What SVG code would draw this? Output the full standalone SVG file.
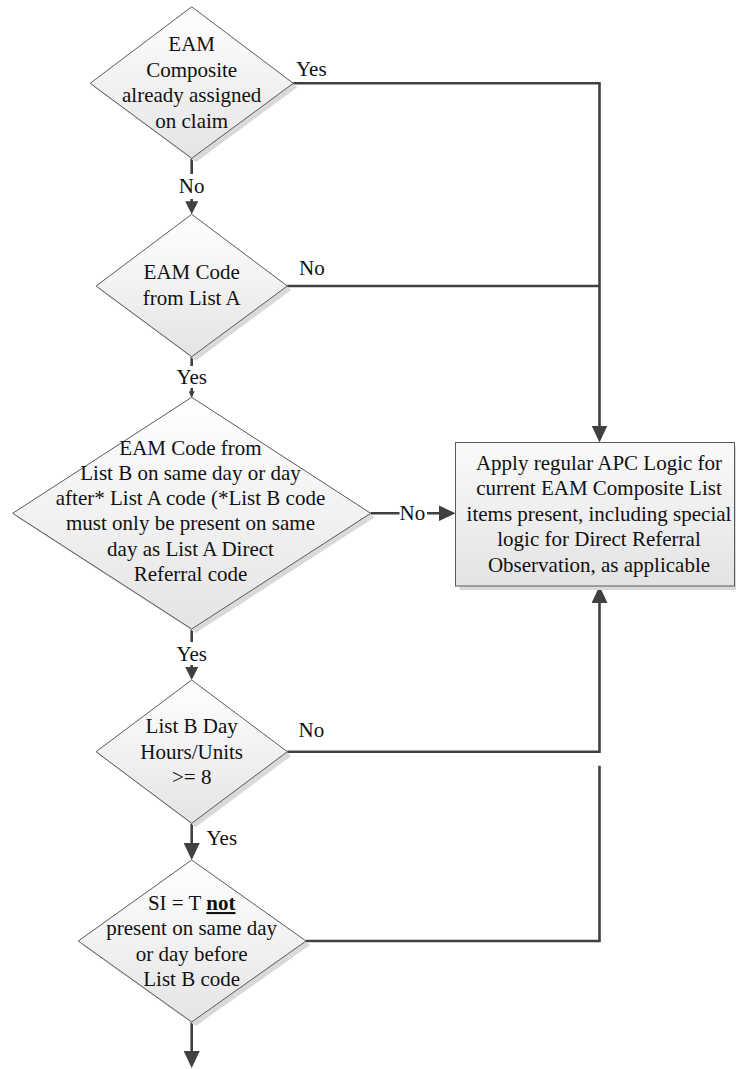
<svg xmlns="http://www.w3.org/2000/svg" width="736" height="1069" viewBox="0 0 736 1069">
  <style>
    .shape { stroke: #595959; stroke-width: 1; }
    .dia { fill: url(#gDia); }
    .box { fill: url(#gBox); }
    .shadow { fill: #d9d9d9; stroke: none; }
    text { font-family: 'Liberation Serif', Tinos, 'Times New Roman', Times, 'Nimbus Roman', 'DejaVu Serif', serif; font-size: 21px; fill: #111; }
    .t { text-anchor: middle; }
    .lc { text-anchor: middle; }
    .conn { fill: none; stroke: #404040; stroke-width: 2.6; }
    .bg { fill: #ffffff; stroke: none; }
  </style>
  <defs>
    <linearGradient id="gDia" x1="0" y1="0" x2="0" y2="1">
      <stop offset="0" stop-color="#ffffff"/>
      <stop offset="1" stop-color="#e4e4e4"/>
    </linearGradient>
    <linearGradient id="gBox" x1="0" y1="0" x2="0" y2="1">
      <stop offset="0" stop-color="#fafafa"/>
      <stop offset="1" stop-color="#e3e3e3"/>
    </linearGradient>
    <marker id="aBig" markerUnits="userSpaceOnUse" markerWidth="17" markerHeight="16" viewBox="0 0 17 16" refX="9" refY="8" orient="auto">
      <path d="M0,0 L17,8 L0,16 z" fill="#404040"/>
    </marker>
    <marker id="aMid" markerUnits="userSpaceOnUse" markerWidth="13" markerHeight="13" viewBox="0 0 13 13" refX="7" refY="6.5" orient="auto">
      <path d="M0,0 L13,6.5 L0,13 z" fill="#404040"/>
    </marker>
    <marker id="aTiny" markerUnits="userSpaceOnUse" markerWidth="7" markerHeight="6" viewBox="0 0 7 6" refX="3" refY="3" orient="auto">
      <path d="M0,0 L7,3 L0,6 z" fill="#404040"/>
    </marker>
  </defs>

  <g id="connectors">
    <path class="conn" d="M293.3,83.3 H599.5 V434.5" marker-end="url(#aBig)"/>
    <path class="conn" d="M191.7,158.3 V208.3" marker-end="url(#aMid)"/>
    <path class="conn" d="M287.3,286 H599.5"/>
    <path class="conn" d="M191.7,356.7 V394.3" marker-end="url(#aTiny)"/>
    <path class="conn" d="M370.7,513.3 H447.5" marker-end="url(#aBig)"/>
    <path class="conn" d="M191.7,629 V674" marker-end="url(#aMid)"/>
    <path class="conn" d="M287.3,751.7 H599.5 V594" marker-end="url(#aBig)"/>
    <path class="conn" d="M191.7,823.3 V852" marker-end="url(#aBig)"/>
    <path class="conn" d="M306,941 H599.5 V765.7"/>
    <path class="conn" d="M191.7,1022 V1060" marker-end="url(#aBig)"/>

    <g id="labels">
      <text x="296" y="76">Yes</text>
      <rect class="bg" x="178" y="174" width="28" height="25"/>
      <text class="lc" x="191.7" y="193.3">No</text>
      <text x="299" y="275">No</text>
      <rect class="bg" x="173" y="366" width="38" height="22"/>
      <text class="lc" x="191.7" y="384">Yes</text>
      <rect class="bg" x="399.5" y="500" width="27.5" height="26"/>
      <text x="399.5" y="520">No</text>
      <rect class="bg" x="173" y="642" width="38" height="23"/>
      <text class="lc" x="191.7" y="660.7">Yes</text>
      <text x="298.5" y="736.5">No</text>
      <text x="206.5" y="845">Yes</text>
    </g>
  </g>

  <g id="node-composite-assigned">
    <polygon class="shadow" points="195.7,10.8 297.3,87.3 195.7,162.3 94.2,87.3"/>
    <polygon class="shape dia" points="191.7,6.8 293.3,83.3 191.7,158.3 90.2,83.3"/>
    <text class="t" x="191.7" y="51">EAM</text>
    <text class="t" x="191.7" y="76.5">Composite</text>
    <text class="t" x="191.7" y="102">already assigned</text>
    <text class="t" x="191.7" y="127.5">on claim</text>
  </g>

  <g id="node-list-a">
    <polygon class="shadow" points="195.7,218.3 291.3,290 195.7,360.7 100.1,290"/>
    <polygon class="shape dia" points="191.7,214.3 287.3,286 191.7,356.7 96.1,286"/>
    <text class="t" x="191.7" y="279">EAM Code</text>
    <text class="t" x="191.7" y="304.5">from List A</text>
  </g>

  <g id="node-list-b">
    <polygon class="shadow" points="195.7,401.3 374.7,517.3 195.7,633 16.7,517.3"/>
    <polygon class="shape dia" points="191.7,397.3 370.7,513.3 191.7,629 12.7,513.3"/>
    <text class="t" x="190.5" y="454.5">EAM Code from</text>
    <text class="t" x="190.5" y="479.8">List B on same day or day</text>
    <text class="t" x="190.5" y="505.1">after* List A code (*List B code</text>
    <text class="t" x="190.5" y="530.4">must only be present on same</text>
    <text class="t" x="190.5" y="555.7">day as List A Direct</text>
    <text class="t" x="190.5" y="581">Referral code</text>
  </g>

  <g id="node-apply-apc">
    <rect class="shadow" x="459.5" y="446.5" width="279" height="143.5"/>
    <rect class="shape box" x="455.5" y="442.5" width="279" height="143.5"/>
    <text class="t" x="599" y="469.5">Apply regular APC Logic for</text>
    <text class="t" x="599" y="495">current EAM Composite List</text>
    <text class="t" x="599" y="520.5">items present, including special</text>
    <text class="t" x="599" y="546">logic for Direct Referral</text>
    <text class="t" x="599" y="571.5">Observation, as applicable</text>
  </g>

  <g id="node-hours">
    <polygon class="shadow" points="195.7,684 291.3,755.7 195.7,827.3 100.1,755.7"/>
    <polygon class="shape dia" points="191.7,680 287.3,751.7 191.7,823.3 96.1,751.7"/>
    <text class="t" x="191.7" y="733">List B Day</text>
    <text class="t" x="191.7" y="758.5">Hours/Units</text>
    <text class="t" x="191.7" y="784">&gt;= 8</text>
  </g>

  <g id="node-si-t">
    <polygon class="shadow" points="195.7,864 310,945 195.7,1026 82.3,945"/>
    <polygon class="shape dia" points="191.7,860 306,941 191.7,1022 78.3,941"/>
    <text class="t" x="191.7" y="910">SI = T <tspan font-weight="bold" text-decoration="underline">not</tspan></text>
    <text class="t" x="191.7" y="935.3">present on same day</text>
    <text class="t" x="191.7" y="960.6">or day before</text>
    <text class="t" x="191.7" y="985.9">List B code</text>
  </g>
</svg>
